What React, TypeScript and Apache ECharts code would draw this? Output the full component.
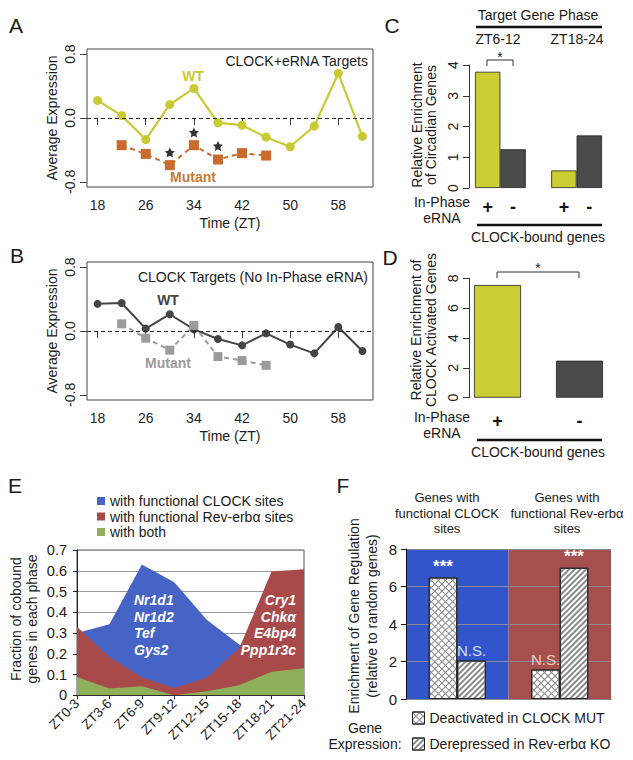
import React, { useEffect, useRef } from "react";
import * as echarts from "echarts";

// ---------- data ----------
const ztWT = [18, 22, 26, 30, 34, 38, 42, 46, 50, 54, 58, 62];
const ztMut = [22, 26, 30, 34, 38, 42, 46];
const timeTicks = [18, 26, 34, 42, 50, 58];
const exprTicks = [-0.8, 0, 0.8];

const wtA = [0.22, 0.03, -0.27, 0.17, 0.37, -0.06, -0.09, -0.24, -0.36, -0.1, 0.56, -0.23];
const mutA = [-0.34, -0.45, -0.59, -0.34, -0.52, -0.44, -0.47];
const starZT = [30, 34, 38];
const starA = [-0.43, -0.18, -0.35];

const wtB = [0.34, 0.35, 0.03, 0.21, 0.02, -0.1, -0.18, -0.03, -0.17, -0.28, 0.05, -0.25];
const mutB = [0.09, -0.09, -0.24, 0.07, -0.32, -0.37, -0.43];

const cCats = ["+", "-", "", "+", "-"];
const cValues = [3.78, 1.26, null, 0.57, 1.71];

const dCats = ["+", "-"];
const dValues = [7.55, 2.48];

const phases = ["ZT0-3", "ZT3-6", "ZT6-9", "ZT9-12", "ZT12-15", "ZT15-18", "ZT18-21", "ZT21-24"];
const eClock = [0.3, 0.342, 0.63, 0.545, 0.364, 0.245, 0.2, 0.15];
const eRev = [0.33, 0.185, 0.087, 0.035, 0.085, 0.225, 0.597, 0.607];
const eBoth = [0.088, 0.033, 0.044, 0.0, 0.02, 0.048, 0.114, 0.13];

const fGroups = ["Genes with\nfunctional CLOCK\nsites", "Genes with\nfunctional Rev-erbα\nsites"];
const fDeact = [6.48, 1.57];
const fDerep = [2.05, 7.0];
const fDeactLabels = ["***", "N.S."];
const fDerepLabels = ["N.S.", "***"];

// ---------- styles ----------
const FONT = '"Liberation Sans", Arial, Helvetica, sans-serif';
const YEL = "#c9c934";
const ORG = "#c96b2c";
const BARY = "#cccc33";
const DARK = "#4a4a4a";
const E_BLUE = "#4564c6";
const E_RED = "#a84a4a";
const E_GREEN = "#8fb05a";
const F_BLUE = "#3355cc";
const F_RED = "#a64f4f";
const STAR =
  "path://M12,2 L15.09,8.26 L22,9.27 L17,14.14 L18.18,21.02 L12,17.77 L5.82,21.02 L7,14.14 L2,9.27 L8.91,8.26 Z";

function txt(text: string, x: number, y: number, o: any = {}) {
  const align = o.align || "center";
  return {
    type: "text",
    x,
    y,
    rotation: o.rot || 0,
    silent: true,
    z: 100,
    style: {
      text,
      fill: o.color || "#1a1a1a",
      fontSize: o.size || 14,
      fontFamily: FONT,
      fontWeight: o.bold ? "bold" : "normal",
      fontStyle: o.italic ? "italic" : "normal",
      textAlign: align,
      align,
      textVerticalAlign: "middle",
      verticalAlign: "middle",
      lineHeight: o.lh || undefined,
    },
  };
}
function ln(x1: number, y1: number, x2: number, y2: number, w = 2) {
  return { type: "line", silent: true, z: 100, shape: { x1, y1, x2, y2 }, style: { stroke: "#111", lineWidth: w } };
}
function bracket(x1: number, x2: number, yTop: number, yBot: number) {
  return {
    type: "polyline",
    silent: true,
    z: 100,
    shape: { points: [[x1, yBot], [x1, yTop], [x2, yTop], [x2, yBot]] },
    style: { stroke: "#333", lineWidth: 1, fill: null },
  };
}

const zeroLine = {
  silent: true,
  symbol: ["none", "none"],
  label: { show: false },
  lineStyle: { color: "#222", type: [4, 3], width: 1 },
  data: [{ yAxis: 0 }],
};

const lineXAxis = (gridIndex: number) => ({
  type: "value",
  gridIndex,
  min: 16.24,
  max: 63.76,
  axisLine: { show: false },
  splitLine: { show: false },
  axisTick: { show: true, length: 7, customValues: timeTicks, lineStyle: { color: "#444" } },
  axisLabel: { customValues: timeTicks, fontSize: 14, color: "#222", margin: 11, fontFamily: FONT },
});
const lineYAxis = (gridIndex: number) => ({
  type: "value",
  gridIndex,
  min: -0.864,
  max: 0.864,
  axisLine: { show: false },
  splitLine: { show: false },
  axisTick: { show: true, length: 7, customValues: exprTicks, lineStyle: { color: "#444" } },
  axisLabel: {
    customValues: exprTicks,
    rotate: 90,
    fontSize: 14,
    color: "#222",
    margin: 10,
    fontFamily: FONT,
    formatter: (v: number) => v.toFixed(1),
  },
});

const crossDecal = {
  symbol: "rect",
  symbolSize: 1,
  color: "#8a8a8a",
  dashArrayX: [[1, 0], [1, 4]],
  dashArrayY: [1, 0, 4, 0],
  rotation: Math.PI / 4,
};
const stripeDecal = {
  symbol: "rect",
  symbolSize: 1,
  color: "#8a8a8a",
  dashArrayX: [1, 0],
  dashArrayY: [2, 2],
  rotation: -Math.PI / 4,
};

export default function App() {
  const ref = useRef<HTMLDivElement>(null);
  useEffect(() => {
    if (!ref.current) return;
    const chart = echarts.init(ref.current, null, { renderer: "svg" });
    const option: any = {
      animation: false,
      backgroundColor: "#fff",
      textStyle: { fontFamily: FONT },
      grid: [
        { left: 87, top: 49, width: 286, height: 138, show: true, borderColor: "#444", borderWidth: 1, outerBoundsMode: "none" },
        { left: 87, top: 262, width: 286, height: 138, show: true, borderColor: "#444", borderWidth: 1, outerBoundsMode: "none" },
        { left: 475, top: 65, width: 127, height: 123, outerBoundsMode: "none" },
        { left: 469, top: 278.3, width: 10, height: 119.4, outerBoundsMode: "none" },
        { left: 456.5, top: 278.3, width: 164, height: 119.4, outerBoundsMode: "none" },
        { left: 77, top: 550, width: 227, height: 145.3, show: true, borderColor: "#555", borderWidth: 1, outerBoundsMode: "none" },
        { left: 406, top: 549, width: 205, height: 150, outerBoundsMode: "none" },
      ],
      xAxis: [
        lineXAxis(0),
        lineXAxis(1),
        {
          type: "category",
          gridIndex: 2,
          data: cCats,
          axisLine: { show: false },
          axisTick: { show: false },
          axisLabel: { fontSize: 18, fontWeight: "bold", color: "#111", margin: 10, interval: 0 },
        },
        { type: "value", gridIndex: 3, show: false, min: 0, max: 1 },
        {
          type: "category",
          gridIndex: 4,
          data: dCats,
          axisLine: { show: false },
          axisTick: { show: false },
          axisLabel: { fontSize: 18, fontWeight: "bold", color: "#111", margin: 14, interval: 0 },
        },
        {
          type: "category",
          gridIndex: 5,
          data: phases,
          boundaryGap: false,
          axisLine: { lineStyle: { color: "#222" } },
          axisTick: { show: true, length: 4, lineStyle: { color: "#222" } },
          axisLabel: { rotate: 45, fontSize: 13.5, color: "#1a1a1a", margin: 6, interval: 0 },
        },
        {
          type: "category",
          gridIndex: 6,
          data: fGroups,
          axisLine: { lineStyle: { color: "#111" } },
          axisTick: { show: false, interval: 0 },
          axisLabel: { show: false, interval: 0 },
          splitArea: { show: true, interval: 0, areaStyle: { color: [F_BLUE, F_RED], opacity: 1 } },
        },
      ],
      yAxis: [
        lineYAxis(0),
        lineYAxis(1),
        {
          type: "value",
          gridIndex: 2,
          min: 0,
          max: 4,
          interval: 1,
          offset: 6,
          axisLine: { show: true, lineStyle: { color: "#333" } },
          axisTick: { show: true, length: 6, lineStyle: { color: "#333" } },
          splitLine: { show: false },
          axisLabel: { rotate: 90, fontSize: 14, color: "#222", margin: 9 },
        },
        {
          type: "value",
          gridIndex: 3,
          min: 0,
          max: 8,
          interval: 2,
          axisLine: { show: true, lineStyle: { color: "#333" } },
          axisTick: { show: true, length: 6, lineStyle: { color: "#333" } },
          splitLine: { show: false },
          axisLabel: { rotate: 90, fontSize: 14, color: "#222", margin: 9 },
        },
        { type: "value", gridIndex: 4, min: 0, max: 8, show: false },
        {
          type: "value",
          gridIndex: 5,
          min: 0,
          max: 0.7,
          interval: 0.1,
          axisLine: { show: true, lineStyle: { color: "#222" } },
          axisTick: { show: true, length: 4, lineStyle: { color: "#222" } },
          splitLine: { show: true, lineStyle: { color: "#9a9a9a", width: 1 } },
          axisLabel: {
            fontSize: 14.5,
            color: "#1a1a1a",
            margin: 10,
            formatter: (v: number) => (v === 0 ? "0" : v.toFixed(1)),
          },
        },
        {
          type: "value",
          gridIndex: 6,
          min: 0,
          max: 8,
          interval: 2,
          z: 1,
          axisLine: { show: true, lineStyle: { color: "#111" } },
          axisTick: { show: true, length: 5, lineStyle: { color: "#111" } },
          splitLine: { show: true, lineStyle: { color: "#8c8c8c", width: 1 } },
          axisLabel: { fontSize: 15, color: "#1a1a1a", margin: 9 },
        },
      ],
      legend: [
        {
          data: ["with functional CLOCK sites", "with functional Rev-erbα sites", "with both"],
          orient: "vertical",
          left: 97,
          top: 493.5,
          padding: 0,
          itemWidth: 8,
          itemHeight: 8,
          itemGap: 0.5,
          icon: "rect",
          selectedMode: false,
          textStyle: { fontSize: 14, color: "#1a1a1a", lineHeight: 15, fontFamily: FONT },
        },
        {
          data: ["Deactivated in CLOCK MUT", "Derepressed in Rev-erbα KO"],
          orient: "vertical",
          left: 412,
          top: 710.5,
          padding: 0,
          itemWidth: 12,
          itemHeight: 12,
          itemGap: 11,
          icon: "rect",
          selectedMode: false,
          itemStyle: { borderColor: "#222", borderWidth: 1 },
          textStyle: { fontSize: 14, color: "#1a1a1a", lineHeight: 15, fontFamily: FONT },
        },
      ],
      series: [
        {
          type: "line",
          name: "WT A",
          xAxisIndex: 0,
          yAxisIndex: 0,
          data: ztWT.map((t, i) => [t, wtA[i]]),
          symbol: "circle",
          symbolSize: 9,
          lineStyle: { color: YEL, width: 2.2 },
          itemStyle: { color: YEL },
          markLine: zeroLine,
          z: 3,
        },
        {
          type: "line",
          name: "Mutant A",
          xAxisIndex: 0,
          yAxisIndex: 0,
          data: ztMut.map((t, i) => [t, mutA[i]]),
          symbol: "rect",
          symbolSize: 10,
          lineStyle: { color: ORG, width: 2, type: [5, 4] },
          itemStyle: { color: ORG },
          z: 3,
        },
        {
          type: "scatter",
          name: "sig A",
          xAxisIndex: 0,
          yAxisIndex: 0,
          data: starZT.map((t, i) => [t, starA[i]]),
          symbol: STAR,
          symbolSize: 10,
          itemStyle: { color: "#000" },
        },
        {
          type: "line",
          name: "WT B",
          xAxisIndex: 1,
          yAxisIndex: 1,
          data: ztWT.map((t, i) => [t, wtB[i]]),
          symbol: "circle",
          symbolSize: 8,
          lineStyle: { color: "#454545", width: 2 },
          itemStyle: { color: "#454545" },
          markLine: zeroLine,
          z: 3,
        },
        {
          type: "line",
          name: "Mutant B",
          xAxisIndex: 1,
          yAxisIndex: 1,
          data: ztMut.map((t, i) => [t, mutB[i]]),
          symbol: "rect",
          symbolSize: 9,
          lineStyle: { color: "#9b9b9b", width: 2, type: [5, 4] },
          itemStyle: { color: "#9b9b9b" },
          z: 3,
        },
        {
          type: "bar",
          name: "C",
          xAxisIndex: 2,
          yAxisIndex: 2,
          barCategoryGap: "0%",
          data: cValues.map((v, i) =>
            v == null
              ? "-"
              : { value: v, itemStyle: { color: cCats[i] === "+" ? BARY : DARK } }
          ),
          itemStyle: { borderColor: "#222", borderWidth: 0.8 },
        },
        {
          type: "bar",
          name: "D",
          xAxisIndex: 4,
          yAxisIndex: 4,
          barWidth: 47,
          data: dValues.map((v, i) => ({ value: v, itemStyle: { color: dCats[i] === "+" ? BARY : DARK } })),
          itemStyle: { borderColor: "#222", borderWidth: 0.8 },
        },
        {
          type: "line",
          name: "with functional CLOCK sites",
          xAxisIndex: 5,
          yAxisIndex: 5,
          data: eClock,
          symbol: "none",
          lineStyle: { width: 0, color: E_BLUE },
          itemStyle: { color: E_BLUE },
          areaStyle: { color: E_BLUE, opacity: 1 },
        },
        {
          type: "line",
          name: "with functional Rev-erbα sites",
          xAxisIndex: 5,
          yAxisIndex: 5,
          data: eRev,
          symbol: "none",
          lineStyle: { width: 0, color: E_RED },
          itemStyle: { color: E_RED },
          areaStyle: { color: E_RED, opacity: 1 },
        },
        {
          type: "line",
          name: "with both",
          xAxisIndex: 5,
          yAxisIndex: 5,
          data: eBoth,
          symbol: "none",
          lineStyle: { width: 0, color: E_GREEN },
          itemStyle: { color: E_GREEN },
          areaStyle: { color: E_GREEN, opacity: 1 },
        },
        {
          type: "bar",
          name: "Deactivated in CLOCK MUT",
          xAxisIndex: 6,
          yAxisIndex: 6,
          barWidth: 28.5,
          barGap: "0%",
          z: 3,
          itemStyle: { color: "#ffffff", borderColor: "#222", borderWidth: 1, decal: crossDecal },
          label: { show: true, position: "top", distance: 3, fontFamily: FONT },
          data: fDeact.map((v, i) => ({
            value: v,
            label:
              fDeactLabels[i] === "***"
                ? { formatter: "***", color: "#fff", fontSize: 17, fontWeight: "bold" }
                : { formatter: "N.S.", color: i === 0 ? "#d8def4" : "#f0c8c8", fontSize: 15 },
          })),
        },
        {
          type: "bar",
          name: "Derepressed in Rev-erbα KO",
          xAxisIndex: 6,
          yAxisIndex: 6,
          barWidth: 28.5,
          barGap: "0%",
          z: 3,
          itemStyle: { color: "#ffffff", borderColor: "#222", borderWidth: 1, decal: stripeDecal },
          label: { show: true, position: "top", distance: 3, fontFamily: FONT },
          data: fDerep.map((v, i) => ({
            value: v,
            label:
              fDerepLabels[i] === "***"
                ? { formatter: "***", color: "#fff", fontSize: 17, fontWeight: "bold" }
                : { formatter: "N.S.", color: i === 0 ? "#d8def4" : "#f0c8c8", fontSize: 15 },
          })),
        },
      ],
      graphic: {
        elements: [
          // panel letters
          txt("A", 16, 25, { size: 21 }),
          txt("B", 17, 255, { size: 21 }),
          txt("C", 392, 25, { size: 21 }),
          txt("D", 390, 257, { size: 21 }),
          txt("E", 15, 485, { size: 21 }),
          txt("F", 343, 485, { size: 21 }),
          // panel A
          txt("CLOCK+eRNA Targets", 368, 61, { align: "right" }),
          txt("WT", 193, 76, { bold: true, color: YEL }),
          txt("Mutant", 193, 177, { bold: true, color: "#c27a36" }),
          txt("Average Expression", 52, 118, { rot: Math.PI / 2 }),
          txt("Time (ZT)", 230, 223),
          // panel B
          txt("CLOCK Targets (No In-Phase eRNA)", 368, 277, { align: "right" }),
          txt("WT", 168, 300, { bold: true, color: "#454545" }),
          txt("Mutant", 168, 363, { bold: true, color: "#9b9b9b" }),
          txt("Average Expression", 52, 331, { rot: Math.PI / 2 }),
          txt("Time (ZT)", 230, 436),
          // panel C
          txt("Target Gene Phase", 538, 15),
          ln(476, 27, 602, 27, 2.5),
          txt("ZT6-12", 498, 39),
          txt("ZT18-24", 577, 39),
          bracket(487, 513, 60, 66),
          txt("*", 500, 57, { size: 14 }),
          txt("Relative Enrichment\nof Circadian Genes", 424, 125, { rot: Math.PI / 2, lh: 14 }),
          txt("In-Phase\neRNA", 442, 210, { lh: 16 }),
          ln(477, 225, 602, 225, 2.5),
          txt("CLOCK-bound genes", 538, 237),
          // panel D
          bracket(497, 579, 272, 278),
          txt("*", 538, 268, { size: 14 }),
          txt("Relative Enrichment of\nCLOCK Activated Genes", 423, 330, { rot: Math.PI / 2, lh: 15 }),
          txt("In-Phase\neRNA", 442, 425, { lh: 16 }),
          ln(477, 440, 602, 440, 2.5),
          txt("CLOCK-bound genes", 538, 452),
          // panel E
          txt("Fraction of cobound\ngenes in each phase", 24, 619, { rot: Math.PI / 2, lh: 16.5 }),
          txt("Nr1d1\nNr1d2\nTef\nGys2", 134, 625, { align: "left", bold: true, italic: true, color: "#fff", lh: 16.8 }),
          txt("Cry1\nChkα\nE4bp4\nPpp1r3c", 296, 625, { align: "right", bold: true, italic: true, color: "#fff", lh: 16.8 }),
          // panel F
          txt(fGroups[0], 447, 513, { size: 13, lh: 15.5 }),
          txt(fGroups[1], 567, 513, { size: 13, lh: 15.5 }),
          txt("Enrichment of Gene Regulation\n(relative to random genes)", 363, 616, { rot: Math.PI / 2, lh: 18 }),
          txt("Gene\nExpression:", 365, 736, { lh: 16 }),
        ],
      },
    };
    chart.setOption(option);
    return () => chart.dispose();
  }, []);
  return (
    <div
      ref={ref}
      style={{ position: "absolute", left: 0, top: 0, width: 633, height: 760, background: "#fff" }}
    />
  );
}
